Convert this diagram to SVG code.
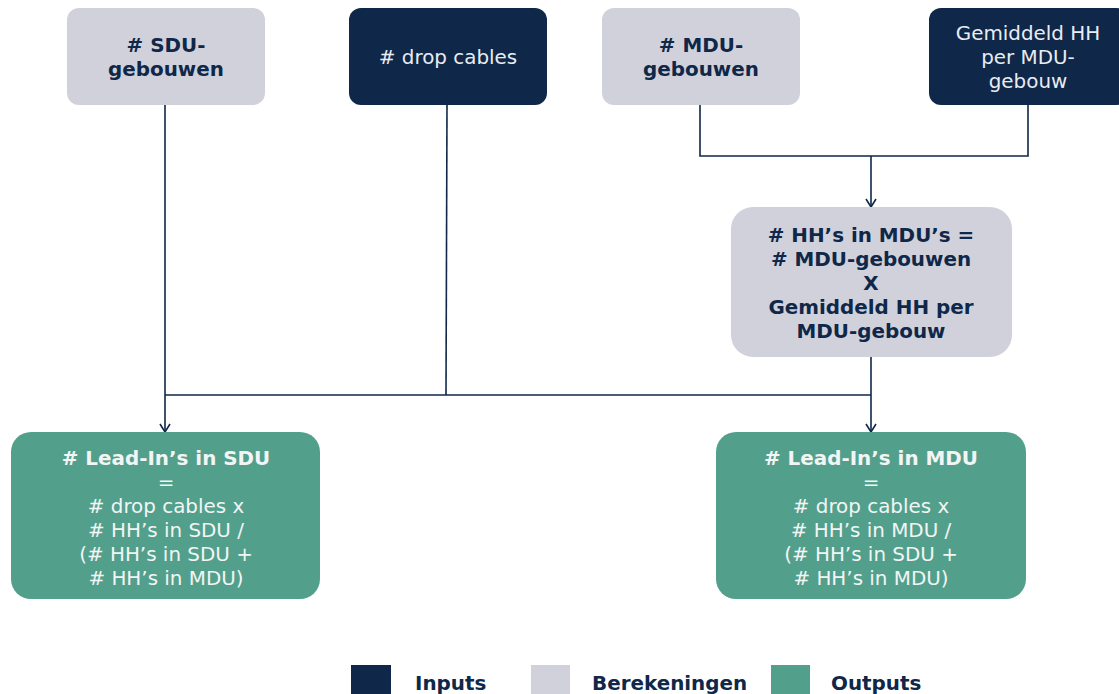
<svg xmlns="http://www.w3.org/2000/svg" width="1119" height="694" viewBox="0 0 1119 694">
<style>
text{font-family:"DejaVu Sans",Verdana,sans-serif;font-size:19.9px;text-anchor:middle}
.calc{fill:#d1d1db}
.inp{fill:#0f2748}
.out{fill:#52a08c}
.tc{fill:#0f2748;font-weight:bold}
.ti{fill:#e9ecf2}
.to{fill:#f2f5f4}
.b{font-weight:bold}
.conn path{fill:none;stroke:#0f2748;stroke-width:1.6}
.lg{fill:#0f2748;font-weight:bold;text-anchor:start}
</style>
<defs>
<marker id="arr" markerWidth="14" markerHeight="14" refX="12" refY="7" orient="auto" markerUnits="userSpaceOnUse" viewBox="0 0 14 14">
<path d="M4,2 L12,7 L4,12" fill="none" stroke="#0f2748" stroke-width="1.6"/>
</marker>
</defs>
<rect width="1119" height="694" fill="#ffffff"/>
<g class="conn">
<path d="M165,105 V432" marker-end="url(#arr)"/>
<path d="M447,105 L446,395"/>
<path d="M700,105 V156 H1028 V105"/>
<path d="M871,156 V207" marker-end="url(#arr)"/>
<path d="M871,357 V432" marker-end="url(#arr)"/>
<path d="M165,395 H871"/>
</g>
<g id="sdu">
<rect class="calc" x="67" y="8" width="198" height="97" rx="12"/>
<text class="tc" x="166" y="52"># SDU-</text>
<text class="tc" x="166" y="76">gebouwen</text>
</g>
<g id="drop">
<rect class="inp" x="349" y="8" width="198" height="97" rx="12"/>
<text class="ti" x="448" y="64"># drop cables</text>
</g>
<g id="mdu">
<rect class="calc" x="602" y="8" width="198" height="97" rx="12"/>
<text class="tc" x="701" y="52"># MDU-</text>
<text class="tc" x="701" y="76">gebouwen</text>
</g>
<g id="gem">
<rect class="inp" x="929" y="8" width="200" height="97" rx="12"/>
<text class="ti" x="1028" y="40">Gemiddeld HH</text>
<text class="ti" x="1028" y="64">per MDU-</text>
<text class="ti" x="1028" y="88">gebouw</text>
</g>
<g id="hh">
<rect class="calc" x="731" y="207" width="281" height="150" rx="22"/>
<text class="tc" x="871" y="242"># HH’s in MDU’s =</text>
<text class="tc" x="871" y="266"># MDU-gebouwen</text>
<text class="tc" x="871" y="290">X</text>
<text class="tc" x="871" y="314">Gemiddeld HH per</text>
<text class="tc" x="871" y="338">MDU-gebouw</text>
</g>
<g id="leadsdu">
<rect class="out" x="11" y="432" width="309" height="167" rx="20"/>
<text class="to b" x="166" y="465"># Lead-In’s in SDU</text>
<text class="to" x="166" y="489">=</text>
<text class="to" x="166" y="513"># drop cables x</text>
<text class="to" x="166" y="537"># HH’s in SDU /</text>
<text class="to" x="166" y="561">(# HH’s in SDU +</text>
<text class="to" x="166" y="585"># HH’s in MDU)</text>
</g>
<g id="leadmdu">
<rect class="out" x="716" y="432" width="310" height="167" rx="20"/>
<text class="to b" x="871" y="465"># Lead-In’s in MDU</text>
<text class="to" x="871" y="489">=</text>
<text class="to" x="871" y="513"># drop cables x</text>
<text class="to" x="871" y="537"># HH’s in MDU /</text>
<text class="to" x="871" y="561">(# HH’s in SDU +</text>
<text class="to" x="871" y="585"># HH’s in MDU)</text>
</g>
<g id="legend">
<rect class="inp" x="351" y="665" width="40" height="30"/>
<text class="lg" x="415" y="690">Inputs</text>
<rect class="calc" x="531" y="665" width="39" height="30"/>
<text class="lg" x="592" y="690">Berekeningen</text>
<rect class="out" x="771" y="665" width="39" height="30"/>
<text class="lg" x="831" y="690">Outputs</text>
</g>
</svg>
